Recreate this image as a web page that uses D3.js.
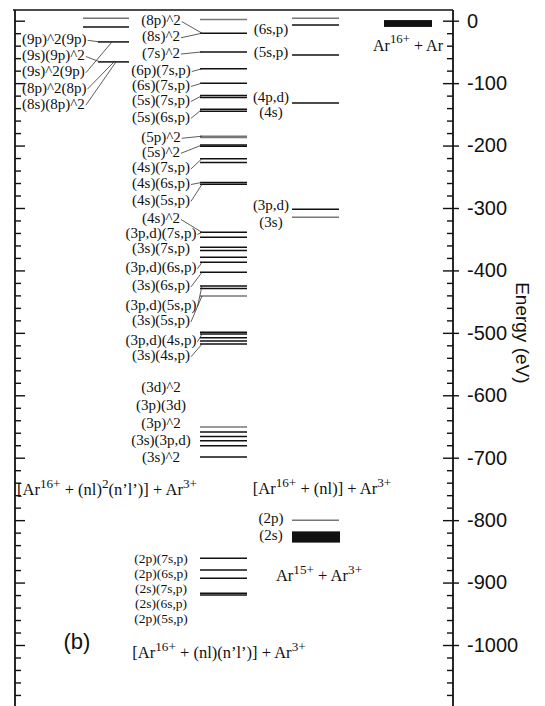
<!DOCTYPE html>
<html>
<head>
<meta charset="utf-8">
<script src="https://cdn.jsdelivr.net/npm/d3@7"></script>
<style>
  body { margin: 0; background: #fff; }
  svg { display: block; }
</style>
</head>
<body>
<svg id="chart" width="545" height="706"></svg>
<script>
// ---- Energy levels (eV) ----
// Ar16+ + (nl)^2(n'l') : highly excited triple configurations
const tripleLevels = [4, -10, -34, -66];
const tripleLabels = ["(9p)^2(9p)", "(9s)(9p)^2", "(9s)^2(9p)", "(8p)^2(8p)", "(8s)(8p)^2"];
const tripleLabelE = [-29, -55, -81, -107, -133];
const tripleLabelTo = [-34, -66, -34, -66, -66];

// Ar16+ + (nl)(n'l') : doubly excited configurations
const doubleLevels = [2, -20, -50, -77, -100, -120, -123, -142, -145, -185, -187, -199, -201,
  -221, -227, -259, -262, -339, -347, -363, -368, -379, -387, -403, -425, -429, -441,
  -499, -502, -508, -513, -518, -651, -659, -666, -673, -681, -699,
  -861, -880, -893, -917, -920];
const doubleLabels = ["(8p)^2", "(8s)^2", "(7s)^2", "(6p)(7s,p)", "(6s)(7s,p)", "(5s)(7s,p)",
  "(5s)(6s,p)", "(5p)^2", "(5s)^2", "(4s)(7s,p)", "(4s)(6s,p)", "(4s)(5s,p)", "(4s)^2",
  "(3p,d)(7s,p)", "(3s)(7s,p)", "(3p,d)(6s,p)", "(3s)(6s,p)", "(3p,d)(5s,p)", "(3s)(5s,p)",
  "(3p,d)(4s,p)", "(3s)(4s,p)", "(3d)^2", "(3p)(3d)", "(3p)^2", "(3s)(3p,d)", "(3s)^2"];
const doubleLabelE = [1, -25, -51, -79, -103, -127, -154, -186, -210, -235, -260, -287, -316,
  -340, -364, -395, -424, -456, -480, -512, -536, -587, -616, -644, -672, -699];
const doubleLabelTo = [-20, -20, -50, -77, -100, -120, -142, -185, -199, -221, -259, -262, -339,
  -339, null, -387, -403, -425, -441, -502, -518, null, null, null, null, null];
// K-shell (2l) doubly excited configurations
const kLabels = ["(2p)(7s,p)", "(2p)(6s,p)", "(2s)(7s,p)", "(2s)(6s,p)", "(2p)(5s,p)"];
const kLabelE = [-861, -885, -909, -933, -957];

// Ar16+ + (nl) : singly excited configurations
const singleLevels = [4, -7, -55, -132, -302, -315, -800];
const singleLabels = ["(6s,p)", "(5s,p)", "(4p,d)", "(4s)", "(3p,d)", "(3s)", "(2p)", "(2s)"];
const singleLabelE = [-13, -50, -122, -146, -295, -322, -797, -824];

// Thick bands: entrance channel and Ar15+ + Ar3+ limit
const entranceBand = [1, -10];
const coreBand = [-818, -836];

// Axis ticks
const majorTicks = d3.range(0, -1001, -100);
const minorTicks = d3.range(0, -1100, -20).filter(d => d % 100 !== 0);

// ---- Layout ----
const svg = d3.select("#chart");
const W = 545, H = 706;
const xLeft = 15, xRight = 453, yTop = 10, yBottom = 706;
const y = d3.scaleLinear().domain([0, -1000]).range([20.7, 645]);

const serif = "'Liberation Serif', 'Times New Roman', serif";
const sans = "'Liberation Sans', Arial, sans-serif";
const ink = "#111";

svg.append("rect").attr("width", W).attr("height", H).attr("fill", "#fff");

// Frame: top edge plus both energy axes
svg.append("line").attr("x1", xLeft - 2).attr("x2", xRight).attr("y1", yTop).attr("y2", yTop)
  .attr("stroke", ink).attr("stroke-width", 1.6);
svg.append("line").attr("x1", xLeft).attr("x2", xLeft).attr("y1", yTop).attr("y2", yBottom)
  .attr("stroke", ink).attr("stroke-width", 1.8);
svg.append("line").attr("x1", xRight).attr("x2", xRight).attr("y1", yTop).attr("y2", yBottom)
  .attr("stroke", ink).attr("stroke-width", 1.8);

function tickAxis(axis, x) {
  const g = svg.append("g").attr("transform", `translate(${x},0)`).call(axis);
  g.select(".domain").remove();
  g.selectAll(".tick line").attr("stroke", ink).attr("stroke-width", 1.4);
  return g;
}

// Left axis: inward ticks only
tickAxis(d3.axisRight(y).tickValues(majorTicks).tickSize(10).tickFormat(""), xLeft);
tickAxis(d3.axisRight(y).tickValues(minorTicks).tickSize(6).tickFormat(""), xLeft);

// Right axis: inward ticks, major ticks also cross outward and carry labels
tickAxis(d3.axisLeft(y).tickValues(majorTicks).tickSize(10).tickFormat(""), xRight);
tickAxis(d3.axisLeft(y).tickValues(minorTicks).tickSize(6).tickFormat(""), xRight);
const rightLabels = tickAxis(
  d3.axisRight(y).tickValues(majorTicks).tickSize(6).tickPadding(8).tickFormat(d => String(d)),
  xRight);
rightLabels.selectAll("text")
  .attr("font-family", sans).attr("font-size", 20).attr("fill", ink);

svg.append("text")
  .attr("transform", `translate(522,${y(-500)}) rotate(90)`)
  .attr("text-anchor", "middle").attr("dominant-baseline", "central")
  .attr("font-family", sans).attr("font-size", 19).attr("fill", ink)
  .text("Energy (eV)");

// ---- Level lines ----
const faint = new Set([4, 2, -185, -187, -441, -651, -315, -800]);
function drawLevels(levels, x0, x1, startFor) {
  svg.append("g").selectAll("line").data(levels).join("line")
    .attr("x1", d => startFor ? startFor(d) : x0)
    .attr("x2", x1)
    .attr("y1", d => y(d)).attr("y2", d => y(d))
    .attr("stroke", d => faint.has(d) ? "#777" : ink)
    .attr("stroke-width", 1.5);
}
drawLevels(tripleLevels, 83, 129, d => d > -20 ? 83 : 98);
drawLevels(doubleLevels, 200, 247);
drawLevels(singleLevels, 292, 339);

// Bands
svg.append("rect")
  .attr("x", 384).attr("width", 48)
  .attr("y", y(entranceBand[0])).attr("height", y(entranceBand[1]) - y(entranceBand[0]))
  .attr("fill", ink);
svg.append("rect")
  .attr("x", 292).attr("width", 48)
  .attr("y", y(coreBand[0])).attr("height", y(coreBand[1]) - y(coreBand[0]))
  .attr("fill", ink);

// ---- Text helpers ----
function label(text, x, e, anchor, size) {
  return svg.append("text")
    .attr("x", x).attr("y", y(e))
    .attr("text-anchor", anchor).attr("dominant-baseline", "central")
    .attr("font-family", serif).attr("font-size", size || 15).attr("fill", ink)
    .text(text);
}
function richLabel(parts, x, e, anchor, size) {
  const t = svg.append("text")
    .attr("x", x).attr("y", y(e))
    .attr("text-anchor", anchor).attr("dominant-baseline", "central")
    .attr("font-family", serif).attr("font-size", size).attr("fill", ink);
  let raised = false;
  parts.forEach(([s, sup]) => {
    const ts = t.append("tspan").text(s);
    if (sup && !raised) { ts.attr("dy", -6).attr("font-size", size * 0.8); raised = true; }
    else if (sup) { ts.attr("font-size", size * 0.8); }
    else if (raised) { ts.attr("dy", 6); raised = false; }
  });
  return t;
}
function leader(textSel, xEnd, eTarget) {
  const b = textSel.node().getBBox();
  const x0 = b.x + b.width + 1;
  const y0 = b.y + b.height / 2 + 1;
  svg.append("line")
    .attr("x1", x0).attr("y1", y0)
    .attr("x2", xEnd).attr("y2", y(eTarget))
    .attr("stroke", "#333").attr("stroke-width", 0.8);
}

// Triple configurations (left column)
tripleLabels.forEach((s, i) => {
  const t = label(s, 22, tripleLabelE[i], "start", 15);
  if (tripleLabelTo[i] !== null) leader(t, tripleLabelTo[i] > -20 ? 83 : (i < 2 ? 100 : 108 + i * 2), tripleLabelTo[i]);
});

// Double configurations (middle column)
doubleLabels.forEach((s, i) => {
  const t = label(s, 161, doubleLabelE[i], "middle", 15);
  if (doubleLabelTo[i] !== null) leader(t, 202, doubleLabelTo[i]);
});
kLabels.forEach((s, i) => label(s, 161, kLabelE[i], "middle", 13.5));

// Single configurations (right column)
singleLabels.forEach((s, i) => label(s, 271, singleLabelE[i], "middle", 15));

// Channel captions
richLabel([["Ar", 0], ["16+", 1], [" + Ar", 0]], 408, -39, "middle", 16);
richLabel([["[Ar", 0], ["16+", 1], [" + (nl)", 0], ["2", 1], ["(n\u2019l\u2019)] + Ar", 0], ["3+", 1]],
  17, -750, "start", 16.5);
richLabel([["[Ar", 0], ["16+", 1], [" + (nl)] + Ar", 0], ["3+", 1]], 322, -748, "middle", 16.5);
richLabel([["Ar", 0], ["15+", 1], [" + Ar", 0], ["3+", 1]], 319, -888, "middle", 16.5);
richLabel([["[Ar", 0], ["16+", 1], [" + (nl)(n\u2019l\u2019)] + Ar", 0], ["3+", 1]], 219, -1011, "middle", 16.5);

// Panel tag
svg.append("text")
  .attr("x", 77).attr("y", y(-994))
  .attr("text-anchor", "middle").attr("dominant-baseline", "central")
  .attr("font-family", sans).attr("font-size", 22).attr("fill", ink)
  .text("(b)");
</script>
</body>
</html>
